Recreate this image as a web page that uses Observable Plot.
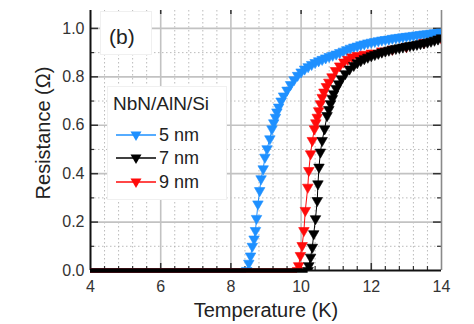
<!DOCTYPE html>
<html><head><meta charset="utf-8">
<script src="https://cdn.jsdelivr.net/npm/d3@7"></script>
<script src="https://cdn.jsdelivr.net/npm/@observablehq/plot@0.6"></script>
<style>
body{margin:0;background:#fff;font-family:"Liberation Sans",Arial,sans-serif;color:#222}
#wrap{position:relative;width:474px;height:324px;overflow:hidden}
#wrap > svg.chart{position:absolute;left:0;top:0}
.ov{position:absolute;white-space:nowrap}
.ov svg{position:static;display:block}
</style></head><body><div id="wrap"></div>
<script>
// ---- data ----
const seriesNames = ["5 nm", "7 nm", "9 nm"];
const seriesColors = ["#1e90ff", "#000000", "#ff0a0a"];
const onsetT = [8.45, 10.2, 9.9]; // end of the zero-resistance region (K)

const blueT = [8.45, 8.51, 8.56, 8.61, 8.66, 8.70, 8.73, 8.77, 8.82, 8.86, 8.92, 8.97, 9.03, 9.11, 9.17, 9.22, 9.27, 9.31, 9.36, 9.43,
  9.5, 9.6, 9.7, 9.8, 9.9, 10.0, 10.1, 10.2, 10.3, 10.4, 10.5, 10.6, 10.7, 10.8, 10.9, 11.0, 11.1, 11.2, 11.3, 11.4, 11.5,
  11.6, 11.7, 11.8, 11.9, 12.0, 12.1, 12.2, 12.3, 12.4, 12.5, 12.6, 12.7, 12.8, 12.9, 13.0, 13.1, 13.2, 13.3, 13.4, 13.5,
  13.6, 13.7, 13.8, 13.9, 14.0];
const blueR = [0, 0.03, 0.06, 0.10, 0.13, 0.165, 0.215, 0.275, 0.33, 0.379, 0.42, 0.468, 0.503, 0.544, 0.585, 0.61, 0.633, 0.655, 0.675, 0.70,
  0.721, 0.745, 0.768, 0.788, 0.806, 0.820, 0.832, 0.842, 0.851, 0.859, 0.866, 0.872, 0.878, 0.884, 0.889, 0.894, 0.900, 0.906, 0.912, 0.918, 0.923,
  0.927, 0.932, 0.936, 0.940, 0.943, 0.946, 0.949, 0.952, 0.954, 0.956, 0.959, 0.961, 0.963, 0.965, 0.967, 0.969, 0.971, 0.973, 0.975, 0.977,
  0.978, 0.980, 0.982, 0.983, 0.985];

const blackT = [10.2, 10.22, 10.27, 10.32, 10.36, 10.41, 10.46, 10.48, 10.51, 10.55, 10.60, 10.67, 10.74, 10.79, 10.84, 10.89, 10.93, 11.0, 11.07, 11.15,
  11.26, 11.38, 11.5, 11.6, 11.7, 11.8, 11.9, 12.0, 12.1, 12.2, 12.3, 12.4, 12.5, 12.6, 12.7, 12.8, 12.9, 13.0, 13.1, 13.2,
  13.3, 13.4, 13.5, 13.6, 13.7, 13.8, 13.9, 14.0];
const blackR = [0, 0.02, 0.055, 0.096, 0.152, 0.214, 0.289, 0.358, 0.427, 0.489, 0.537, 0.585, 0.64, 0.665, 0.689, 0.71, 0.73, 0.752, 0.771, 0.792,
  0.813, 0.832, 0.847, 0.858, 0.867, 0.875, 0.881, 0.887, 0.892, 0.897, 0.902, 0.906, 0.910, 0.914, 0.917, 0.920, 0.923, 0.926, 0.929, 0.931,
  0.934, 0.937, 0.940, 0.943, 0.947, 0.951, 0.956, 0.961];

const redT = [9.9, 9.93, 9.98, 10.03, 10.08, 10.12, 10.19, 10.22, 10.27, 10.32, 10.38, 10.42, 10.46, 10.50, 10.55, 10.60, 10.65, 10.72, 10.79, 10.88,
  10.98, 11.1, 11.22, 11.33, 11.45, 11.6, 11.8, 12.0, 12.3, 12.6, 13.0, 13.5, 14.0];
const redR = [0, 0.02, 0.062, 0.103, 0.165, 0.248, 0.344, 0.413, 0.482, 0.537, 0.585, 0.61, 0.633, 0.66, 0.689, 0.715, 0.737, 0.76, 0.778, 0.80,
  0.826, 0.845, 0.861, 0.872, 0.882, 0.888, 0.893, 0.898, 0.907, 0.914, 0.925, 0.942, 0.958];

const xTicks = [4, 6, 8, 10, 12, 14];
const yTicks = [0, 0.2, 0.4, 0.6, 0.8, 1.0];
const majorGridX = [6, 8, 10, 12];
const majorGridY = [0.2, 0.4, 0.6, 0.8, 1.0];
const minorX = [4.4, 4.8, 5.2, 5.6, 6.4, 6.8, 7.2, 7.6, 8.4, 8.8, 9.2, 9.6, 10.4, 10.8, 11.2, 11.6, 12.4, 12.8, 13.2, 13.6];
const minorY = [0.1, 0.3, 0.5, 0.7, 0.9];
const xDomain = [4, 14];
const yDomain = [0, 1.074];

// ---- layout ----
const W = 474, H = 324, mL = 90, mR = 33, mT = 10, mB = 54;
const fW = W - mL - mR, fH = H - mT - mB;

const series = [
  {name: seriesNames[0], color: seriesColors[0], T: blueT, R: blueR, onset: onsetT[0]},
  {name: seriesNames[1], color: seriesColors[1], T: blackT, R: blackR, onset: onsetT[1]},
  {name: seriesNames[2], color: seriesColors[2], T: redT, R: redR, onset: onsetT[2]}
];
const drawOrder = [0, 2, 1];

const dataMarks = [];
for (const k of drawOrder) {
  const s = series[k];
  const rows = s.T.map((t, i) => ({T: t, R: s.R[i]}));
  dataMarks.push(Plot.line(rows, {x: "T", y: "R", stroke: s.color, strokeWidth: 1, clip: true}));
  dataMarks.push(Plot.dot(rows, {x: "T", y: "R", symbol: "triangle", rotate: 180, r: 3.9, fill: s.color, stroke: s.color, strokeWidth: 0.6, clip: true}));
}
const baseMarks = drawOrder.map(k => Plot.ruleY([series[k]], {y: () => 0, x1: () => xDomain[0], x2: d => d.onset, stroke: series[k].color, strokeWidth: 4.5}));

const tickColor = "#333";
const chart = Plot.plot({
  width: W, height: H,
  marginLeft: mL, marginRight: mR, marginTop: mT, marginBottom: mB,
  x: {domain: xDomain},
  y: {domain: yDomain},
  className: "chart",
  style: {fontFamily: "'Liberation Sans', Arial, sans-serif", background: "transparent", color: "#222"},
  marks: [
    Plot.gridX(minorX, {stroke: "#aaa", strokeOpacity: 0.8, strokeWidth: 1, strokeDasharray: "1.5,2.5"}),
    Plot.gridY(minorY, {stroke: "#aaa", strokeOpacity: 0.8, strokeWidth: 1, strokeDasharray: "1.5,2.5"}),
    Plot.gridX(majorGridX, {stroke: "#c2c2c2", strokeOpacity: 1, strokeWidth: 1.6}),
    Plot.gridY(majorGridY, {stroke: "#c2c2c2", strokeOpacity: 1, strokeWidth: 1.6}),
    // inward ticks
    Plot.tickX(majorGridX, {x: d => d, insetTop: fH - 7, stroke: tickColor, strokeWidth: 1.5}),
    Plot.tickX(minorX, {x: d => d, insetTop: fH - 4, stroke: tickColor, strokeWidth: 1.2}),
    Plot.tickX(majorGridX, {x: d => d, insetBottom: fH - 4, stroke: tickColor, strokeWidth: 1.5}),
    Plot.tickY(majorGridY, {y: d => d, insetRight: fW - 8, stroke: tickColor, strokeWidth: 1.5}),
    Plot.tickY(minorY, {y: d => d, insetRight: fW - 4, stroke: tickColor, strokeWidth: 1.2}),
    Plot.tickY(majorGridY, {y: d => d, insetLeft: fW - 8, stroke: tickColor, strokeWidth: 1.5}),
    Plot.tickY(minorY, {y: d => d, insetLeft: fW - 4, stroke: tickColor, strokeWidth: 1.2}),
    Plot.axisX(xTicks, {tickSize: 0, tickPadding: 10, fontSize: 16, label: null, tickFormat: d => String(d), fill: "#333"}),
    Plot.axisY(yTicks, {tickSize: 0, tickPadding: 6, fontSize: 16, label: null, tickFormat: d3.format(".1f"), fill: "#333"}),
    // frame
    Plot.ruleX([xDomain[1]], {stroke: "#8a8a8a", strokeWidth: 1.6}),
    Plot.ruleX([xDomain[0]], {stroke: "#111", strokeWidth: 2}),
    Plot.ruleY([yDomain[0]], {stroke: "#111", strokeWidth: 2}),
    ...dataMarks,
    ...baseMarks
  ]
});
chart.classList.add("chart");

const wrap = document.getElementById("wrap");
wrap.appendChild(chart);
function addDiv(style, html) {
  const d = document.createElement("div");
  d.className = "ov";
  d.setAttribute("style", style);
  d.innerHTML = html;
  wrap.appendChild(d);
  return d;
}
// panel label box
addDiv("left:100px;top:11px;width:50px;height:42px;background:#fff;border:1px solid #f0f0f0;", "");
addDiv("left:109px;top:25px;font-size:21px;line-height:24px;color:#222;", "(b)");
// legend box
addDiv("left:107px;top:86px;width:118px;height:112px;background:#fff;border:1px solid #f0f0f0;", "");
addDiv("left:113px;top:92px;font-size:19px;line-height:24px;color:#222;", "NbN/AlN/Si");
const legendY = [135, 158, 182];
seriesNames.forEach((name, i) => {
  const c = seriesColors[i];
  addDiv(`left:116px;top:${legendY[i] - 12}px;height:24px;display:flex;align-items:center;font-size:18px;line-height:24px;color:#222;`,
    `<svg width="40" height="16" style="margin-right:3px"><line x1="0" y1="8" x2="40" y2="8" stroke="${c}" stroke-width="1.5"/><path d="M14.5,4.5 L25.5,4.5 L20,14 Z" fill="${c}"/></svg><span>${name}</span>`);
});
// axis titles
addDiv("left:116px;top:297px;width:300px;text-align:center;font-size:20px;line-height:26px;color:#222;", "Temperature (K)");
addDiv("left:-107px;top:120px;width:300px;text-align:center;font-size:20px;line-height:26px;color:#222;transform:rotate(-90deg);", "Resistance (Ω)");
</script></body></html>
